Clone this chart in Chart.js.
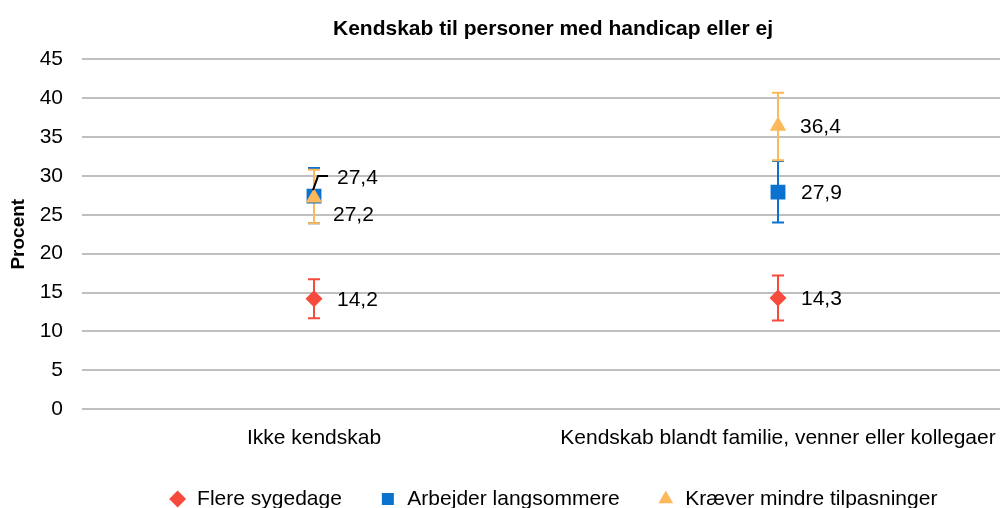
<!DOCTYPE html>
<html>
<head>
<meta charset="utf-8">
<script src="https://cdn.jsdelivr.net/npm/chart.js@4"></script>
<style>
  html, body { margin: 0; padding: 0; background: #fff; overflow: hidden; }
  #wrap { width: 1100px; height: 508px; }
</style>
</head>
<body>
<div id="wrap"><canvas id="myChart"></canvas></div>
<script>
const categories = ['Ikke kendskab', 'Kendskab blandt familie, venner eller kollegaer'];
const seriesNames = ['Flere sygedage', 'Arbejder langsommere', 'Kræver mindre tilpasninger'];
const sygedage = [14.2, 14.3];
const langsommere = [27.4, 27.9];
const tilpasninger = [27.2, 36.4];
// error bar half-widths (plus / minus)
const errSygedagePlus = [2.5, 2.9];
const errSygedageMinus = [2.5, 2.9];
const errLangsommerePlus = [3.6, 4.0];
const errLangsommereMinus = [3.5, 3.9];
const errTilpasningerPlus = [3.6, 4.3];
const errTilpasningerMinus = [3.3, 4.4];
const yTicks = [0, 5, 10, 15, 20, 25, 30, 35, 40, 45];

const colors = ['#F64A3C', '#0B72CF', '#FDB85A'];

Chart.defaults.font.family = '"Liberation Sans", Arial, sans-serif';
Chart.defaults.color = '#000';

// label offsets in px from the point (style only)
const labelOffsets = [
  [[23, 0], [23, 0]],
  [[23, -19], [23, 0]],
  [[19, 17], [22, 0]]
];

const errorBars = {
  id: 'errorBars',
  beforeDatasetsDraw(chart) {
    const { ctx, scales: { x, y } } = chart;
    ctx.save();
    ctx.lineWidth = 2;
    chart.data.datasets.forEach((ds, i) => {
      ctx.strokeStyle = ds.borderColor;
      ds.data.forEach((v, j) => {
        const px = Math.round(x.getPixelForValue(j));
        const top = y.getPixelForValue(v + ds.errPlus[j]);
        const bot = y.getPixelForValue(v - ds.errMinus[j]);
        ctx.beginPath();
        ctx.moveTo(px, top); ctx.lineTo(px, bot);
        ctx.moveTo(px - 6, top); ctx.lineTo(px + 6, top);
        ctx.moveTo(px - 6, bot); ctx.lineTo(px + 6, bot);
        ctx.stroke();
      });
    });
    ctx.restore();
  }
};

const valueLabels = {
  id: 'valueLabels',
  afterDatasetsDraw(chart) {
    const { ctx, scales: { x, y } } = chart;
    ctx.save();
    ctx.font = '21px "Liberation Sans", Arial, sans-serif';
    ctx.fillStyle = '#000';
    ctx.textBaseline = 'middle';
    ctx.textAlign = 'left';
    chart.data.datasets.forEach((ds, i) => {
      ds.data.forEach((v, j) => {
        const px = x.getPixelForValue(j);
        const py = y.getPixelForValue(v);
        const off = labelOffsets[i][j];
        ctx.fillText(v.toFixed(1).replace('.', ','), px + off[0], py + off[1] + 1);
      });
    });
    // leader line for the first blue label
    const lx = x.getPixelForValue(0);
    const ly = y.getPixelForValue(langsommere[0]);
    ctx.strokeStyle = '#000';
    ctx.lineWidth = 2;
    ctx.beginPath();
    ctx.moveTo(lx - 1, ly - 6);
    ctx.lineTo(lx + 4, ly - 20);
    ctx.lineTo(lx + 14, ly - 20);
    ctx.stroke();
    ctx.restore();
  }
};

const makeSet = (label, data, color, style, radius, order, ep, em) => ({
  label: label,
  data: data,
  order: order,
  errPlus: ep,
  errMinus: em,
  showLine: false,
  pointStyle: style,
  pointRadius: radius,
  pointHoverRadius: radius,
  pointBackgroundColor: color,
  pointBorderColor: color,
  pointBorderWidth: 0,
  backgroundColor: color,
  borderColor: color
});

const data = {
  labels: categories,
  datasets: [
    makeSet(seriesNames[0], sygedage, colors[0], 'rectRot', 8.5, 3, errSygedagePlus, errSygedageMinus),
    makeSet(seriesNames[1], langsommere, colors[1], 'rect', 10.5, 2, errLangsommerePlus, errLangsommereMinus),
    makeSet(seriesNames[2], tilpasninger, colors[2], 'triangle', 9.5, 1, errTilpasningerPlus, errTilpasningerMinus)
  ]
};

const config = {
  type: 'line',
  data: data,
  plugins: [errorBars, valueLabels],
  options: {
    responsive: true,
    maintainAspectRatio: false,
    animation: false,
    layout: {
      padding: { left: 6, right: 0, top: 8, bottom: -11.6 }
    },
    plugins: {
      title: {
        display: true,
        text: 'Kendskab til personer med handicap eller ej',
        font: { size: 21, weight: 'bold' },
        color: '#000',
        padding: { top: 9, bottom: 17 }
      },
      legend: {
        position: 'bottom',
        labels: {
          usePointStyle: true,
          boxWidth: 18,
          boxHeight: 12,
          padding: 37,
          font: { size: 21 },
          color: '#000',
          sort: (a, b) => a.datasetIndex - b.datasetIndex
        }
      },
      tooltip: { enabled: false }
    },
    scales: {
      x: {
        offset: true,
        grid: { display: false },
        border: { display: false },
        ticks: { font: { size: 21 }, color: '#000', padding: 8.4, maxRotation: 0, autoSkip: false },
        afterFit(axis) { axis.height = 42.4; }
      },
      y: {
        min: 0,
        max: 45,
        afterBuildTicks(axis) {
          axis.ticks = yTicks.map(v => ({ value: v }));
        },
        grid: { color: '#BFBFBF', lineWidth: 2, drawTicks: false },
        border: { display: false },
        ticks: { font: { size: 21 }, color: '#000', padding: 19 },
        title: {
          display: true,
          text: 'Procent',
          font: { size: 19, weight: 'bold' },
          color: '#000',
          padding: { top: 1, bottom: 2 }
        },
        afterFit(axis) { axis.width = 76; }
      },
      yRight: {
        position: 'right',
        display: true,
        grid: { display: false },
        border: { display: false },
        ticks: { display: false },
        afterFit(axis) { axis.width = 90; }
      }
    }
  }
};

const myChart = new Chart(document.getElementById('myChart').getContext('2d'), config);
</script>
</body>
</html>
